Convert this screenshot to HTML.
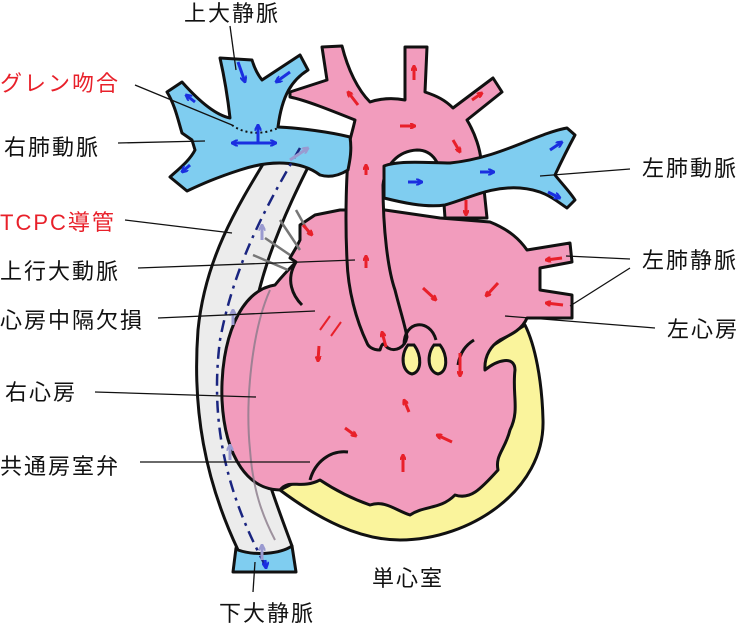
<!DOCTYPE html>
<html><head><meta charset="utf-8"><style>
html,body{margin:0;padding:0;background:#fff;}
svg{display:block;}
text{font-family:"Liberation Sans","Noto Sans CJK JP",sans-serif;font-size:22px;letter-spacing:2px;fill:#111;}
.r{fill:#e8202a;}
</style></head><body>
<svg width="742" height="626" viewBox="0 0 742 626" xmlns="http://www.w3.org/2000/svg">
<defs>
<marker id="ar" markerWidth="6" markerHeight="6" refX="5" refY="3" orient="auto" markerUnits="userSpaceOnUse"><path d="M0,0 L6,3 L0,6" fill="none" stroke="#e8202a" stroke-width="2"/></marker>
<marker id="ab" markerWidth="7" markerHeight="7" refX="6" refY="3.5" orient="auto" markerUnits="userSpaceOnUse"><path d="M0,0 L7,3.5 L0,7" fill="none" stroke="#1a2fe0" stroke-width="2"/></marker>
<marker id="ag" markerWidth="7" markerHeight="7" refX="6" refY="3.5" orient="auto" markerUnits="userSpaceOnUse"><path d="M0,0 L7,3.5 L0,7" fill="none" stroke="#9a9ad0" stroke-width="2"/></marker>
</defs>
<g stroke="#111" stroke-width="3" stroke-linejoin="round">
<path d="M280,490 C320,520 360,540 400,540 C470,540 545,490 543,420 C542,380 535,345 525,325 L470,360 L300,480 Z" fill="#faf49c"/>
<path d="M236,548 L233,572 L296,572 L292,546 Z" fill="#7fcdf0"/>
<path d="M268,156 C235,210 205,260 198,330 C192,410 205,480 238,550 C255,556 280,554 292,546 C275,500 255,450 248,390 C244,300 280,220 322,140 Z" fill="#ececec"/>
<path d="M300,225 L315,215 L340,210 L385,210 L440,218 L490,222 C510,230 520,240 527,250 L570,243 L572,262 L540,268 L540,290 L572,295 L572,318 L527,318 C522,330 510,335 500,340 C492,345 484,355 485,370 C497,360 515,355 515,370 C512,395 520,410 510,430 C505,450 495,455 498,470 C480,490 470,500 455,495 C440,510 425,505 410,515 C395,510 385,500 370,505 C350,498 335,490 320,480 C300,490 290,478 280,490 C250,490 225,460 222,400 C220,340 240,290 275,285 C283,275 290,268 296,262 L290,258 L297,246 L300,240 Z" fill="#f29cbd"/>
<path d="M296,262 C285,280 293,296 302,305" fill="none"/>
<path d="M290,92 L327,80 L322,47 L342,46 C348,70 358,90 370,102 C382,98 395,98 405,100 L405,47 L427,47 L425,92 C437,96 445,100 453,108 L493,78 L502,92 L467,120 C476,135 480,150 481,160 L487,218 L445,218 L443,190 C442,162 432,150 417,150 C398,151 385,165 383,185 C383,230 388,270 395,290 C400,310 405,325 407,337 C405,348 395,352 388,348 C384,345 383,340 380,350 C372,350 368,346 367,343 C356,320 348,290 347,260 C345,220 346,170 350,140 C352,132 354,125 355,120 C330,110 305,100 290,97 Z" fill="#f29cbd"/>
<path d="M278,127 C300,128 330,132 350,137 C352,150 350,160 348,170 C340,175 330,178 320,175 C300,160 270,160 240,170 C215,178 200,185 187,191 L170,177 C180,168 190,160 195,150 L192,140 L182,133 C178,120 175,105 167,92 L182,82 C198,100 215,115 230,118 C228,100 225,80 220,58 L252,60 C255,70 258,75 262,80 L300,55 L308,70 C292,80 282,95 278,127 Z" fill="#7fcdf0"/>
<path d="M384,166 C400,160 430,163 450,163 C480,160 505,150 525,142 C540,136 555,130 567,128 L575,135 C568,148 562,160 555,175 C563,185 570,192 575,200 L567,208 C555,200 545,190 520,188 C490,186 470,198 445,205 C425,208 400,202 384,198 Z" fill="#7fcdf0"/>
</g>
<g stroke="#111" stroke-width="3" fill="#faf49c">
<path d="M408,345 C400,355 402,372 412,374 C422,372 422,355 414,345 Z"/>
<path d="M434,345 C426,355 428,372 438,374 C448,372 448,355 440,345 Z"/>
</g>
<path d="M404,345 C404,320 430,318 436,340" fill="none" stroke="#111" stroke-width="3"/>
<path d="M310,480 C315,462 330,450 348,452" fill="none" stroke="#111" stroke-width="3"/>
<path d="M458,365 C460,352 466,345 474,340" fill="none" stroke="#111" stroke-width="3"/>
<path d="M270,290 C252,330 245,400 250,450 C253,490 262,515 275,540" fill="none" stroke="#8a7a8a" stroke-width="2" opacity=".8"/>
<g stroke="#777" stroke-width="2.5"><line x1="296" y1="210" x2="310" y2="235"/><line x1="280" y1="220" x2="300" y2="250"/><line x1="265" y1="238" x2="290" y2="255"/><line x1="253" y1="255" x2="288" y2="270"/></g>
<path d="M232,125 C245,135 265,135 280,127" fill="none" stroke="#111" stroke-width="2" stroke-dasharray="2,3"/>
<path d="M300,148 C270,200 235,260 220,340 C210,420 225,490 265,565" fill="none" stroke="#1a2580" stroke-width="2.5" stroke-dasharray="12,6,3,6"/>
<g stroke="#1a2fe0" stroke-width="3" marker-end="url(#ab)">
<line x1="238" y1="62" x2="245" y2="82"/><line x1="290" y1="72" x2="276" y2="82"/>
<line x1="195" y1="102" x2="186" y2="95"/><line x1="190" y1="165" x2="182" y2="172"/>
<line x1="258" y1="143" x2="276" y2="143"/><line x1="258" y1="143" x2="232" y2="143"/><line x1="258" y1="143" x2="258" y2="125"/>
<line x1="408" y1="182" x2="422" y2="182"/><line x1="480" y1="172" x2="494" y2="172"/>
<line x1="550" y1="150" x2="562" y2="142"/><line x1="548" y1="192" x2="560" y2="198"/>
<line x1="265" y1="560" x2="266" y2="568"/>
</g>
<g stroke="#9a9ad0" stroke-width="3" marker-end="url(#ag)"><line x1="290" y1="160" x2="308" y2="148"/><line x1="262" y1="240" x2="262" y2="225"/><line x1="233" y1="325" x2="233" y2="310"/><line x1="230" y1="460" x2="230" y2="445"/><line x1="262" y1="560" x2="262" y2="545"/></g>
<g stroke="#e8202a" stroke-width="3" marker-end="url(#ar)">
<line x1="358" y1="105" x2="348" y2="92"/><line x1="414" y1="80" x2="414" y2="66"/><line x1="472" y1="100" x2="482" y2="93"/>
<line x1="400" y1="126" x2="415" y2="126"/><line x1="453" y1="140" x2="460" y2="152"/>
<line x1="366" y1="175" x2="366" y2="165"/><line x1="466" y1="200" x2="466" y2="215"/>
<line x1="303" y1="225" x2="312" y2="235"/><line x1="366" y1="268" x2="366" y2="256"/>
<line x1="423" y1="288" x2="436" y2="300"/><line x1="498" y1="283" x2="486" y2="296"/>
<line x1="562" y1="258" x2="546" y2="260"/><line x1="563" y1="305" x2="546" y2="303"/>
<line x1="319" y1="346" x2="318" y2="361"/><line x1="386" y1="347" x2="382" y2="332"/><line x1="460" y1="353" x2="460" y2="376"/>
<line x1="409" y1="412" x2="404" y2="400"/><line x1="345" y1="428" x2="356" y2="436"/><line x1="452" y1="442" x2="437" y2="435"/><line x1="403" y1="472" x2="403" y2="455"/>
</g>
<g stroke="#e8202a" stroke-width="2"><line x1="320" y1="330" x2="330" y2="316"/><line x1="331" y1="336" x2="341" y2="322"/></g>
<g stroke="#111" stroke-width="1.3" fill="none">
<line x1="230" y1="26" x2="236" y2="70"/>
<line x1="135" y1="85" x2="232" y2="125"/>
<line x1="118" y1="143" x2="205" y2="141"/>
<line x1="125" y1="220" x2="232" y2="233"/>
<line x1="138" y1="268" x2="355" y2="260"/>
<line x1="158" y1="318" x2="315" y2="311"/>
<line x1="95" y1="392" x2="256" y2="397"/>
<line x1="140" y1="462" x2="310" y2="462"/>
<line x1="255" y1="562" x2="253" y2="592"/>
<line x1="540" y1="176" x2="630" y2="169"/>
<line x1="566" y1="256" x2="630" y2="259"/>
<line x1="570" y1="306" x2="630" y2="268"/>
<line x1="505" y1="316" x2="655" y2="328"/>
</g>
<text x="184" y="21">上大静脈</text>
<text x="0" y="91" class="r">グレン吻合</text>
<text x="4" y="155">右肺動脈</text>
<text x="0" y="230" class="r">TCPC導管</text>
<text x="0" y="279">上行大動脈</text>
<text x="0" y="328">心房中隔欠損</text>
<text x="5" y="400">右心房</text>
<text x="0" y="474">共通房室弁</text>
<text x="372" y="586">単心室</text>
<text x="219" y="621">下大静脈</text>
<text x="642" y="176">左肺動脈</text>
<text x="642" y="268">左肺静脈</text>
<text x="667" y="337">左心房</text>
</svg>
</body></html>
